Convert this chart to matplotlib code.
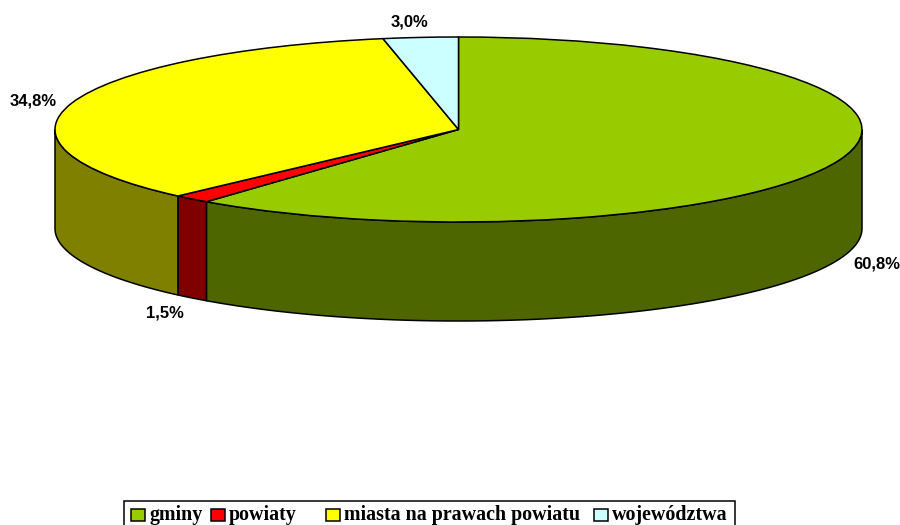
#!/usr/bin/env python3
# -*- coding: utf-8 -*-
import numpy as np
import matplotlib
matplotlib.use("Agg")
import matplotlib.pyplot as plt
from matplotlib.patches import Rectangle

categories = ["gminy", "powiaty", "miasta na prawach powiatu", "województwa"]
shares = [60.8, 1.5, 34.8, 3.0]
share_labels = ["60,8%", "1,5%", "34,8%", "3,0%"]

TOP = ["#99CC00", "#FF0000", "#FFFF00", "#CCFFFF"]
SIDE = ["#4D6600", "#800000", "#808000", "#668080"]

# figure in pixels, the pie is a unit circle squashed by the axis limits
W, H = 900, 525
CX, CY, RX, RY, DEPTH = 458.5, 129.5, 403.5, 92.5, 99
d = DEPTH / RY

fig = plt.figure(figsize=(W / 100, H / 100), dpi=100)
ax = fig.add_axes([0, 0, 1, 1])

# top face, clockwise from 12 o'clock
ax.pie(shares, colors=TOP, startangle=90, counterclock=False, radius=1, center=(0, 0),
       wedgeprops=dict(edgecolor="black", linewidth=1.1, zorder=3), normalize=True)

# side wall: only the front half of the rim is visible
edges = np.cumsum([0] + shares) / sum(shares) * 360
for i in range(len(shares)):
    a0, a1 = max(edges[i], 90), min(edges[i + 1], 270)
    if a1 <= a0:
        continue
    t = np.radians(np.linspace(a0, a1, 120))
    xs = np.sin(t)
    ys = np.cos(t)
    ax.fill(np.r_[xs, xs[::-1]], np.r_[ys, ys[::-1] - d], facecolor=SIDE[i],
            edgecolor="black", linewidth=1.1, zorder=2)

ax.set_aspect("auto")
ax.set_xlim((0 - CX) / RX, (W - CX) / RX)
ax.set_ylim((CY - H) / RY, CY / RY)
ax.axis("off")

# overlay in pixel coordinates for labels and legend
ov = fig.add_axes([0, 0, 1, 1])
ov.set_xlim(0, W)
ov.set_ylim(H, 0)
ov.axis("off")
ov.patch.set_alpha(0)

label_pos = [(877, 264), (165, 313), (33.5, 101), (409.5, 22)]
for s, (x, y) in zip(share_labels, label_pos):
    ov.text(x, y, s, ha="center", va="center", fontsize=12, fontweight="bold",
            family="Liberation Sans", color="black")

# legend box runs off the bottom edge of the picture
ov.add_patch(Rectangle((124, 501), 611, 40, facecolor="white", edgecolor="black", linewidth=1.1))
swatch_x = [131, 211, 326, 594]
text_x = [149, 229, 344, 612]
for c, col, sx, tx in zip(categories, TOP, swatch_x, text_x):
    ov.add_patch(Rectangle((sx, 508.5), 13.5, 12.5, facecolor=col, edgecolor="black", linewidth=1.1))
    ov.text(tx, 520, c, ha="left", va="baseline", fontsize=14.4, fontweight="bold",
            family="Liberation Serif", color="black")

fig.savefig("out.png", dpi=100)
